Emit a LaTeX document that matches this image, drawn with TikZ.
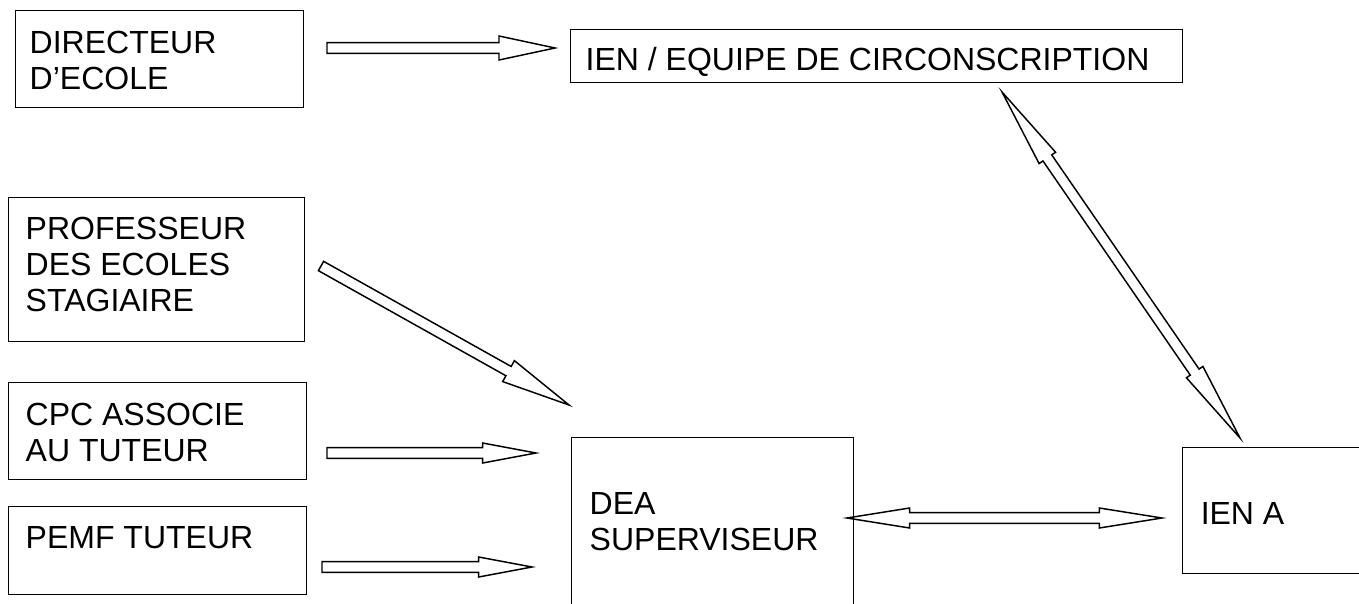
\documentclass[tikz,border=0pt]{standalone}
\usepackage{fontspec}
\setmainfont{Liberation Sans}
\usepackage{tikz}
\usetikzlibrary{calc,positioning}
\tikzset{
		box/.style={draw,black,anchor=north west,inner sep=0pt},
		txt/.style={anchor=north west,inner sep=0pt,align=left,font=\fontsize{24}{27}\selectfont},
		blockarrow/.style 2 args={to path={
			($(\tikztostart)!4pt!90:(\tikztotarget)$) --
			($(\tikztotarget)!#1!(\tikztostart)!4pt!-90:(\tikztostart)$) --
			($(\tikztotarget)!#1!(\tikztostart)!#2!-90:(\tikztostart)$) --
			(\tikztotarget) --
			($(\tikztotarget)!#1!(\tikztostart)!#2!90:(\tikztostart)$) --
			($(\tikztotarget)!#1!(\tikztostart)!4pt!90:(\tikztostart)$) --
			($(\tikztostart)!4pt!-90:(\tikztotarget)$) -- cycle}},
		dblockarrow/.style 2 args={to path={
			(\tikztostart) --
			($(\tikztostart)!#1!(\tikztotarget)!#2!90:(\tikztotarget)$) --
			($(\tikztostart)!#1!(\tikztotarget)!4pt!90:(\tikztotarget)$) --
			($(\tikztotarget)!#1!(\tikztostart)!4pt!-90:(\tikztostart)$) --
			($(\tikztotarget)!#1!(\tikztostart)!#2!-90:(\tikztostart)$) --
			(\tikztotarget) --
			($(\tikztotarget)!#1!(\tikztostart)!#2!90:(\tikztostart)$) --
			($(\tikztotarget)!#1!(\tikztostart)!4pt!90:(\tikztostart)$) --
			($(\tikztostart)!#1!(\tikztotarget)!4pt!-90:(\tikztotarget)$) --
			($(\tikztostart)!#1!(\tikztotarget)!#2!-90:(\tikztotarget)$) -- cycle}}
	}
\begin{document}
\begin{tikzpicture}[x=0.75pt,y=-0.75pt,line width=1.1pt]
          \clip (0,0) rectangle (1359,603);

          \node[box,minimum width=216pt,minimum height=72.75pt] (DIR) at (15,10) {};
          \node[box,minimum width=459pt,minimum height=39.75pt] (IEN) at (570,29) {};
          \node[box,minimum width=222pt,minimum height=108pt] (PES) at (8,197) {};
          \node[box,minimum width=223.5pt,minimum height=72.75pt] (CPC) at (8,382) {};
          \node[box,minimum width=223.5pt,minimum height=66pt] (PEMF) at (8,506) {};
          \node[box,minimum width=211.5pt,minimum height=150pt] (DEA) at (571,437) {};
          \node[box,minimum width=165pt,minimum height=94.5pt] (IENA) at (1182,447) {};

          \node[txt] (tDIR) at ([shift={(14,20)}]DIR.north west) {DIRECTEUR\\D'ECOLE};
          \node[txt] (tIEN) at ([shift={(15,18)}]IEN.north west) {IEN / EQUIPE DE CIRCONSCRIPTION};
          \node[txt] (tPES) at ([shift={(17,19)}]PES.north west) {PROFESSEUR\\DES ECOLES\\STAGIAIRE};
          \node[txt] (tCPC) at ([shift={(17,20)}]CPC.north west) {CPC ASSOCIE\\AU TUTEUR};
          \node[txt] (tPEMF) at ([shift={(17,20)}]PEMF.north west) {PEMF TUTEUR};
          \node[txt] (tDEA) at ([shift={(18,55)}]DEA.north west) {DEA\\SUPERVISEUR};
          \node[txt] (tIENA) at ([shift={(18,55)}]IENA.north west) {IEN A};

          \coordinate (A1) at (327,48);
          \coordinate (B1) at (555,48);
          \coordinate (A2) at (321,266);
          \coordinate (B2) at (569,405);
          \coordinate (A3) at (327,453);
          \coordinate (B3) at (536,453);
          \coordinate (A4) at (322,567);
          \coordinate (B4) at (532,567);
          \coordinate (A5) at (847,518);
          \coordinate (B5) at (1162,518);
          \coordinate (A6) at (1002,92);
          \coordinate (B6) at (1240,438);

          \draw[blockarrow={42pt}{9pt}] (A1) to (B1);
          \draw[blockarrow={52pt}{9pt}] (A2) to (B2);
          \draw[blockarrow={40pt}{7.5pt}] (A3) to (B3);
          \draw[blockarrow={40pt}{7.5pt}] (A4) to (B4);
          \draw[dblockarrow={47pt}{7.5pt}] (A5) to (B5);% both ends
          \draw[dblockarrow={60pt}{7.5pt}] (A6) to (B6);

\end{tikzpicture}
\end{document}
